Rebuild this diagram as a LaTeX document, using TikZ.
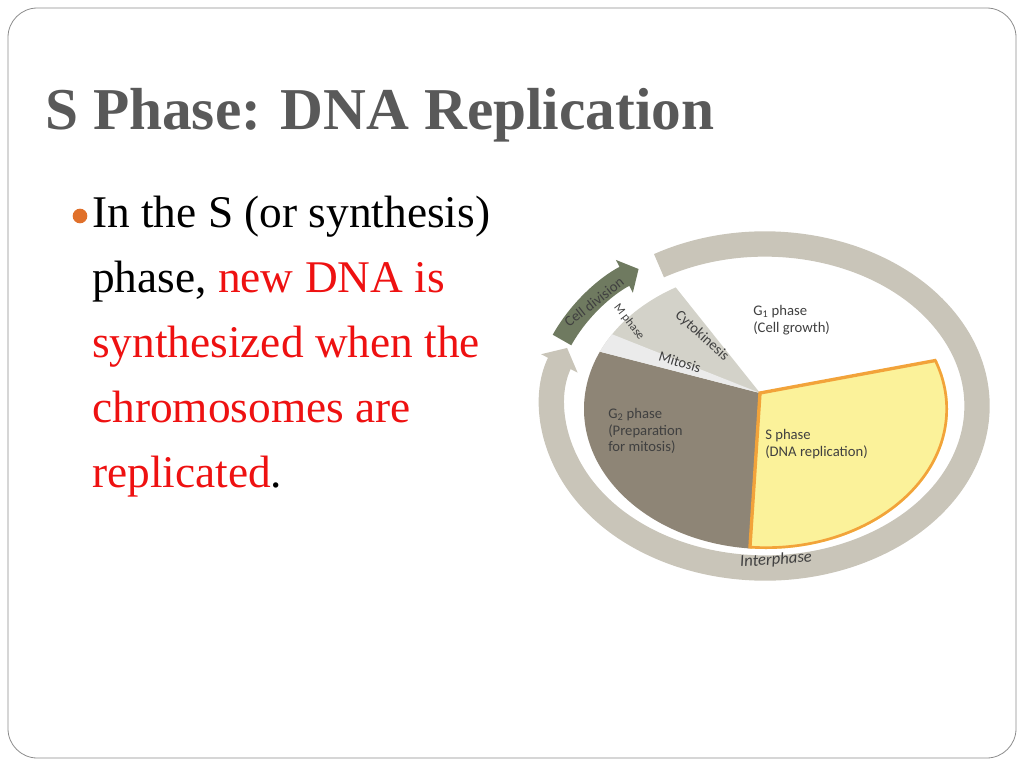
\documentclass[tikz,border=0pt]{standalone}
\usepackage{fontspec}
\setmainfont{Liberation Serif}
\newfontfamily\lab{Carlito}
\usetikzlibrary{arrows.meta}
\definecolor{ttl}{HTML}{595959}
\definecolor{ring}{HTML}{C9C5B9}
\definecolor{gtwo}{HTML}{8E8576}
\definecolor{mph}{HTML}{D3D2C9}
\definecolor{sy}{HTML}{FBF29A}
\definecolor{sor}{HTML}{F2A33A}
\definecolor{cdg}{HTML}{6F7A60}
\definecolor{bul}{HTML}{E0702A}
\definecolor{rd}{HTML}{EE1111}
\tikzset{lbl/.style={font=\lab\fontsize{11}{12.5}\selectfont,text=black!75,align=left,inner sep=0}}
\begin{document}
\begin{tikzpicture}[x=0.75pt,y=-0.75pt]
\useasboundingbox (0,0) rectangle (1024,768);
\node[draw=black!45,line width=0.6pt,rounded corners=22pt,minimum width=756pt,minimum height=562.5pt,inner sep=0] (frame) at (512,383) {};
\node[anchor=base west,text=ttl,font=\bfseries\fontsize{44.5}{48}\selectfont,inner sep=0] (title) at (45,129) {S Phase: DNA Replication};
\fill[bul] (80,216) circle[radius=5.5pt];
\node[anchor=north west,inner sep=0,font=\fontsize{34}{48.75}\selectfont,align=left] (body) at (92,196)
 {In the S (or synthesis)\\ phase, \textcolor{rd}{new DNA is}\\ \textcolor{rd}{synthesized when the}\\ \textcolor{rd}{chromosomes are}\\ \textcolor{rd}{replicated}.};
% inner disc
\begin{scope}
\clip (766,409) ellipse[x radius=136.5pt,y radius=105pt];
\fill[white] (500,150) rectangle (1100,700);
\fill[sy] (760,393) -- (1100,330) -- (1100,700) -- (740,700) -- cycle;
\fill[gtwo] (760,393) -- (740,700) -- (400,700) -- (400,300) -- cycle;
\fill[mph] (760,393) -- (400,300) -- (400,150) -- (566,150) -- cycle;
\fill[black!8] (760,393) -- (400,300) -- (400,250) -- cycle;
\draw[sor,line width=2.5pt] (1100,330) -- (760,393) -- (740,700);
\begin{scope}
\clip (760,393) -- (1100,330) -- (1100,700) -- (740,700) -- cycle;
\draw[sor,line width=4pt] (766,409) ellipse[x radius=136.5pt,y radius=105pt];
\end{scope}
\end{scope}
% ring
\draw[ring,line width=19pt,-{Triangle[width=30pt,length=13pt]}] (659,265.7) arc[start angle=120,end angle=-201,x radius=159pt,y radius=121.5pt];
\draw[cdg,line width=16pt,-{Triangle[width=27pt,length=12pt]}] (562,340) arc[start angle=157,end angle=124,x radius=159pt,y radius=121.5pt];
% labels
\node[lbl,rotate=38] (cd) at (594,302) {Cell division};
\node[lbl,rotate=-52,font=\lab\fontsize{9}{9}\selectfont] (mp) at (629,322) {M phase};
\node[lbl,rotate=-42] (cy) at (702,336) {Cytokinesis};
\node[lbl,rotate=-17] (mi) at (680,362) {Mitosis};
\node[lbl,anchor=north west] (g1) at (753,305) {G\textsubscript{1} phase\\(Cell growth)};
\node[lbl,anchor=north west] (sp) at (765,429) {S phase\\(DNA replication)};
\node[lbl,anchor=north west] (g2) at (608,408) {G\textsubscript{2} phase\\(Preparation\\for mitosis)};
\node[lbl,rotate=4,font=\lab\itshape\fontsize{12.5}{13}\selectfont] (ip) at (776,560) {Interphase};
\end{tikzpicture}
\end{document}
